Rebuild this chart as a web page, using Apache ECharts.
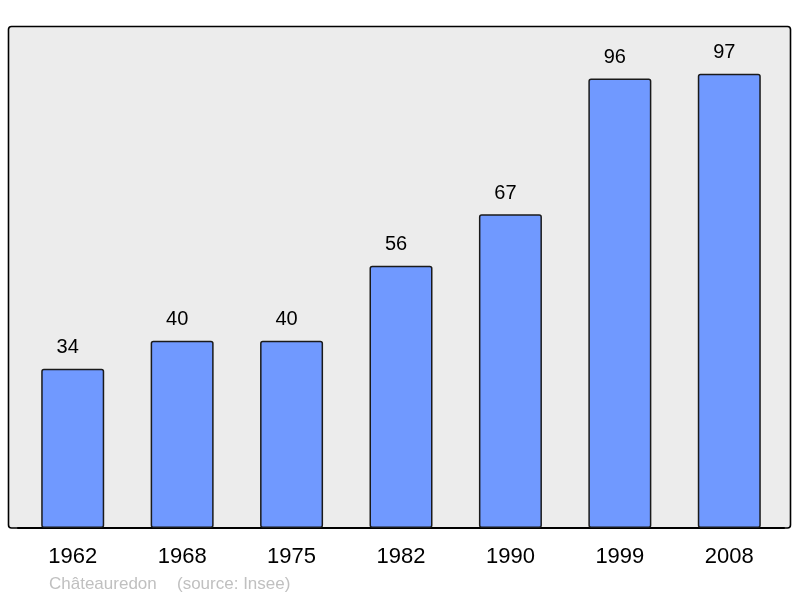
<!DOCTYPE html>
<html>
<head>
<meta charset="utf-8">
<script src="https://cdn.jsdelivr.net/npm/echarts@6/dist/echarts.min.js"></script>
<style>
  html, body { margin: 0; padding: 0; background: #fff; }
  #chart { width: 800px; height: 598px; }
</style>
</head>
<body>
<div id="chart"></div>
<script>
var years = ['1962', '1968', '1975', '1982', '1990', '1999', '2008'];
var population = [34, 40, 40, 56, 67, 96, 97];
var townName = 'Châteauredon';
var sourceText = '(source: Insee)';

var chart = echarts.init(document.getElementById('chart'));

var footFont = '17px "Liberation Sans", Arial, sans-serif';

var option = {
  animation: false,
  textStyle: { fontFamily: 'Liberation Sans, Arial, sans-serif' },
  graphic: [
    {
      // plot frame
      type: 'rect',
      z: -10,
      shape: { x: 8.5, y: 26.5, width: 782, height: 501.5, r: 3 },
      style: { fill: '#ececec', stroke: '#000', lineWidth: 1.6 }
    },
    {
      type: 'text',
      left: 49,
      top: 576,
      style: { text: townName, fill: '#c0c0c0', font: footFont }
    },
    {
      type: 'text',
      left: 177,
      top: 576,
      style: { text: sourceText, fill: '#c0c0c0', font: footFont }
    }
  ],
  grid: {
    left: 18,
    right: 16,
    top: 27,
    bottom: 70
  },
  xAxis: {
    type: 'category',
    data: years,
    axisLine: { show: true, lineStyle: { color: '#000', width: 2 } },
    axisTick: { show: false },
    axisLabel: {
      color: '#000',
      fontSize: 22,
      margin: 18
    }
  },
  yAxis: {
    type: 'value',
    min: 0,
    max: 107,
    show: false,
    splitLine: { show: false }
  },
  series: [
    {
      type: 'bar',
      data: population,
      barWidth: 63,
      itemStyle: {
        color: '#7099ff',
        borderColor: '#1a1a1a',
        borderWidth: 1.5,
        borderRadius: 2
      },
      label: {
        show: true,
        position: 'top',
        distance: 11,
        offset: [-5, 0],
        color: '#000',
        fontSize: 20
      }
    }
  ]
};

chart.setOption(option);
</script>
</body>
</html>
